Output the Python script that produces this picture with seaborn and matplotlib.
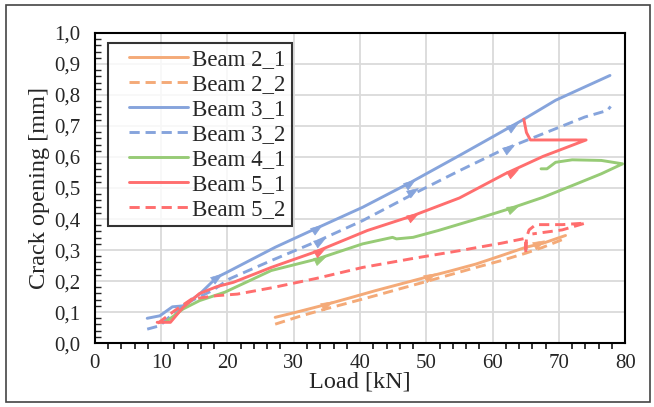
import matplotlib
matplotlib.use("Agg")
import matplotlib.pyplot as plt
import seaborn as sns
import pandas as pd
import numpy as np
from matplotlib.ticker import MultipleLocator, FuncFormatter
from matplotlib.patches import Rectangle
from matplotlib.markers import MarkerStyle
from matplotlib.transforms import Affine2D
from matplotlib.legend_handler import HandlerLine2D
from matplotlib.lines import Line2D

# --- data (load kN, crack opening mm) ---
b21_x = [27.2, 31.0, 34.8, 38.5, 42.3, 46.0, 49.9, 53.7, 57.5, 61.3, 65.0, 67.6, 71.0]
b21_y = [0.083, 0.103, 0.124, 0.146, 0.169, 0.190, 0.212, 0.233, 0.255, 0.282, 0.309, 0.322, 0.347]
b22_x = [27.2, 31.0, 34.8, 38.5, 42.3, 46.0, 49.9, 53.7, 57.5, 61.3, 65.0, 67.6, 71.0]
b22_y = [0.061, 0.087, 0.110, 0.131, 0.153, 0.175, 0.198, 0.221, 0.244, 0.266, 0.290, 0.309, 0.338]
b31_x = [7.9, 9.8, 11.7, 13.3, 15.8, 18.4, 19.9, 23.5, 27.2, 33.5, 40.4, 47.7, 55.0, 60.0, 64.4, 69.5, 73.9, 77.7]
b31_y = [0.080, 0.088, 0.117, 0.120, 0.158, 0.212, 0.228, 0.268, 0.309, 0.371, 0.438, 0.519, 0.605, 0.665, 0.718, 0.783, 0.826, 0.863]
b32_x = [7.9, 9.8, 12.0, 14.6, 17.7, 20.3, 26.6, 33.5, 40.4, 48.6, 55.0, 61.3, 67.6, 73.9, 77.3, 77.8]
b32_y = [0.045, 0.056, 0.099, 0.137, 0.169, 0.207, 0.266, 0.328, 0.395, 0.487, 0.556, 0.621, 0.675, 0.729, 0.750, 0.763]
b41_x = [10.8, 13.3, 15.8, 19.6, 26.6, 33.5, 40.4, 44.9, 45.5, 48.0, 51.8, 56.8, 62.5, 67.6, 72.6, 76.4, 79.6,
         76.4, 72.0, 69.5, 68.2, 67.3]
b41_y = [0.070, 0.110, 0.137, 0.164, 0.234, 0.271, 0.320, 0.341, 0.336, 0.341, 0.363, 0.395, 0.433, 0.470, 0.513, 0.546, 0.578,
         0.589, 0.591, 0.583, 0.562, 0.562]
b51_x = [9.4, 11.4, 13.3, 15.8, 18.4, 20.9, 26.6, 33.5, 41.1, 48.0, 55.0, 61.9, 67.6, 74.1, 65.7, 65.1, 64.7]
b51_y = [0.067, 0.067, 0.115, 0.160, 0.182, 0.196, 0.244, 0.296, 0.363, 0.411, 0.468, 0.546, 0.602, 0.655, 0.655, 0.679, 0.722]
b52_x = [9.5, 12.0, 14.6, 18.4, 21.5, 26.6, 33.5, 40.4, 48.0, 55.0, 61.3, 65.0, 65.0, 65.1, 65.5, 66.5, 70.5, 74.0, 70.5, 66.0]
b52_y = [0.064, 0.104, 0.142, 0.153, 0.158, 0.178, 0.209, 0.244, 0.273, 0.298, 0.322, 0.338, 0.288, 0.340, 0.365, 0.382, 0.382, 0.387, 0.365, 0.352]

# arrow heads sitting on the curves
arr21_x = [35.0, 50.5, 67.0]
arr21_y = [0.125, 0.215, 0.322]
arr31_x = [18.5, 33.5, 47.5, 63.0]
arr31_y = [0.214, 0.372, 0.517, 0.700]
arr32_x = [34.0, 48.0, 62.5]
arr32_y = [0.330, 0.492, 0.630]
arr41_x = [34.0, 63.0]
arr41_y = [0.272, 0.437]
arr51_x = [34.0, 48.0, 63.0]
arr51_y = [0.296, 0.411, 0.552]

labels = ["Beam 2_1", "Beam 2_2", "Beam 3_1", "Beam 3_2", "Beam 4_1", "Beam 5_1", "Beam 5_2"]
orange = "#F4AA78"
blue = "#86A4DC"
green = "#97CB76"
red = "#FF6E6E"

series = [
    (b21_x, b21_y, labels[0], orange, "-"),
    (b22_x, b22_y, labels[1], orange, "--"),
    (b31_x, b31_y, labels[2], blue, "-"),
    (b32_x, b32_y, labels[3], blue, "--"),
    (b41_x, b41_y, labels[4], green, "-"),
    (b51_x, b51_y, labels[5], red, "-"),
    (b52_x, b52_y, labels[6], red, "--"),
]
arrows = [(arr21_x, arr21_y, orange, 28), (arr31_x, arr31_y, blue, 35), (arr32_x, arr32_y, blue, 32),
          (arr41_x, arr41_y, green, 25), (arr51_x, arr51_y, red, 30)]


class PadLine(HandlerLine2D):
    # legend line starts a bit in from the frame, like the Excel legend
    def get_xdata(self, legend, xdescent, ydescent, width, height, fontsize):
        x = np.array([-xdescent + 0.65 * fontsize, -xdescent + width])
        return x, x


sns.set_style("white")
plt.rcParams['font.family'] = ['Liberation Serif', 'DejaVu Serif']

fig = plt.figure(figsize=(6.54, 4.07), dpi=100)
ax = fig.add_axes([0.145, 0.157, 0.811, 0.762])

for xs, ys, lab, col, ls in series:
    df = pd.DataFrame({"x": xs, "y": ys})
    sns.lineplot(data=df, x="x", y="y", sort=False, estimator=None, ax=ax,
                 color=col, linewidth=2.1, label=lab, zorder=3)
    if ls == "--":
        ax.lines[-1].set_dashes([3.5, 2])

for xs, ys, col, ang in arrows:
    m = MarkerStyle(">", transform=Affine2D().scale(1.3, 0.9).rotate_deg(ang))
    sns.scatterplot(x=xs, y=ys, ax=ax, marker=m, s=40, color=col,
                    edgecolor=col, linewidth=0.5, zorder=4, legend=False)

ax.set_xlim(0, 80)
ax.set_ylim(0, 1.0)
ax.xaxis.set_major_locator(MultipleLocator(10))
ax.xaxis.set_minor_locator(MultipleLocator(2))
ax.yaxis.set_major_locator(MultipleLocator(0.1))
ax.yaxis.set_minor_locator(MultipleLocator(0.02))
ax.yaxis.set_major_formatter(FuncFormatter(lambda v, p: f"{v:.1f}".replace(".", ",")))
ax.xaxis.set_major_formatter(FuncFormatter(lambda v, p: f"{v:.0f}"))
ax.grid(True, which="major", color="#DADADA", linewidth=1.3, zorder=0)
ax.set_axisbelow(True)
for s in ax.spines.values():
    s.set_color("black")
    s.set_linewidth(1.5)
ax.tick_params(axis="x", which="major", direction="inout", length=9, width=1.3, labelsize=15, pad=3)
ax.tick_params(axis="x", which="minor", direction="out", length=4, width=1.3, bottom=True)
ax.tick_params(axis="y", which="major", direction="inout", length=9, width=1.3, labelsize=15, pad=6)
ax.tick_params(axis="y", which="minor", direction="in", length=4, width=1.0, left=True)
ax.set_xlabel("Load [kN]", fontsize=17.5, labelpad=-1)
ax.set_ylabel("Crack opening [mm]", fontsize=17.5, labelpad=3)

handles, labs = ax.get_legend_handles_labels()
leg = ax.legend(handles, labs, loc="upper left", bbox_to_anchor=(0.024, 0.968), fontsize=16.5,
                frameon=True, fancybox=False, edgecolor="black", handlelength=3.25,
                labelspacing=0.17, borderpad=0.28, handletextpad=0.17, borderaxespad=0,
                handler_map={Line2D: PadLine()})
leg.get_frame().set_linewidth(1.5)

fig.patches.append(Rectangle((0.009, 0.012), 0.985, 0.975, transform=fig.transFigure,
                             fill=False, edgecolor="#444444", linewidth=1.2))

fig.savefig("out.png", dpi=100)
